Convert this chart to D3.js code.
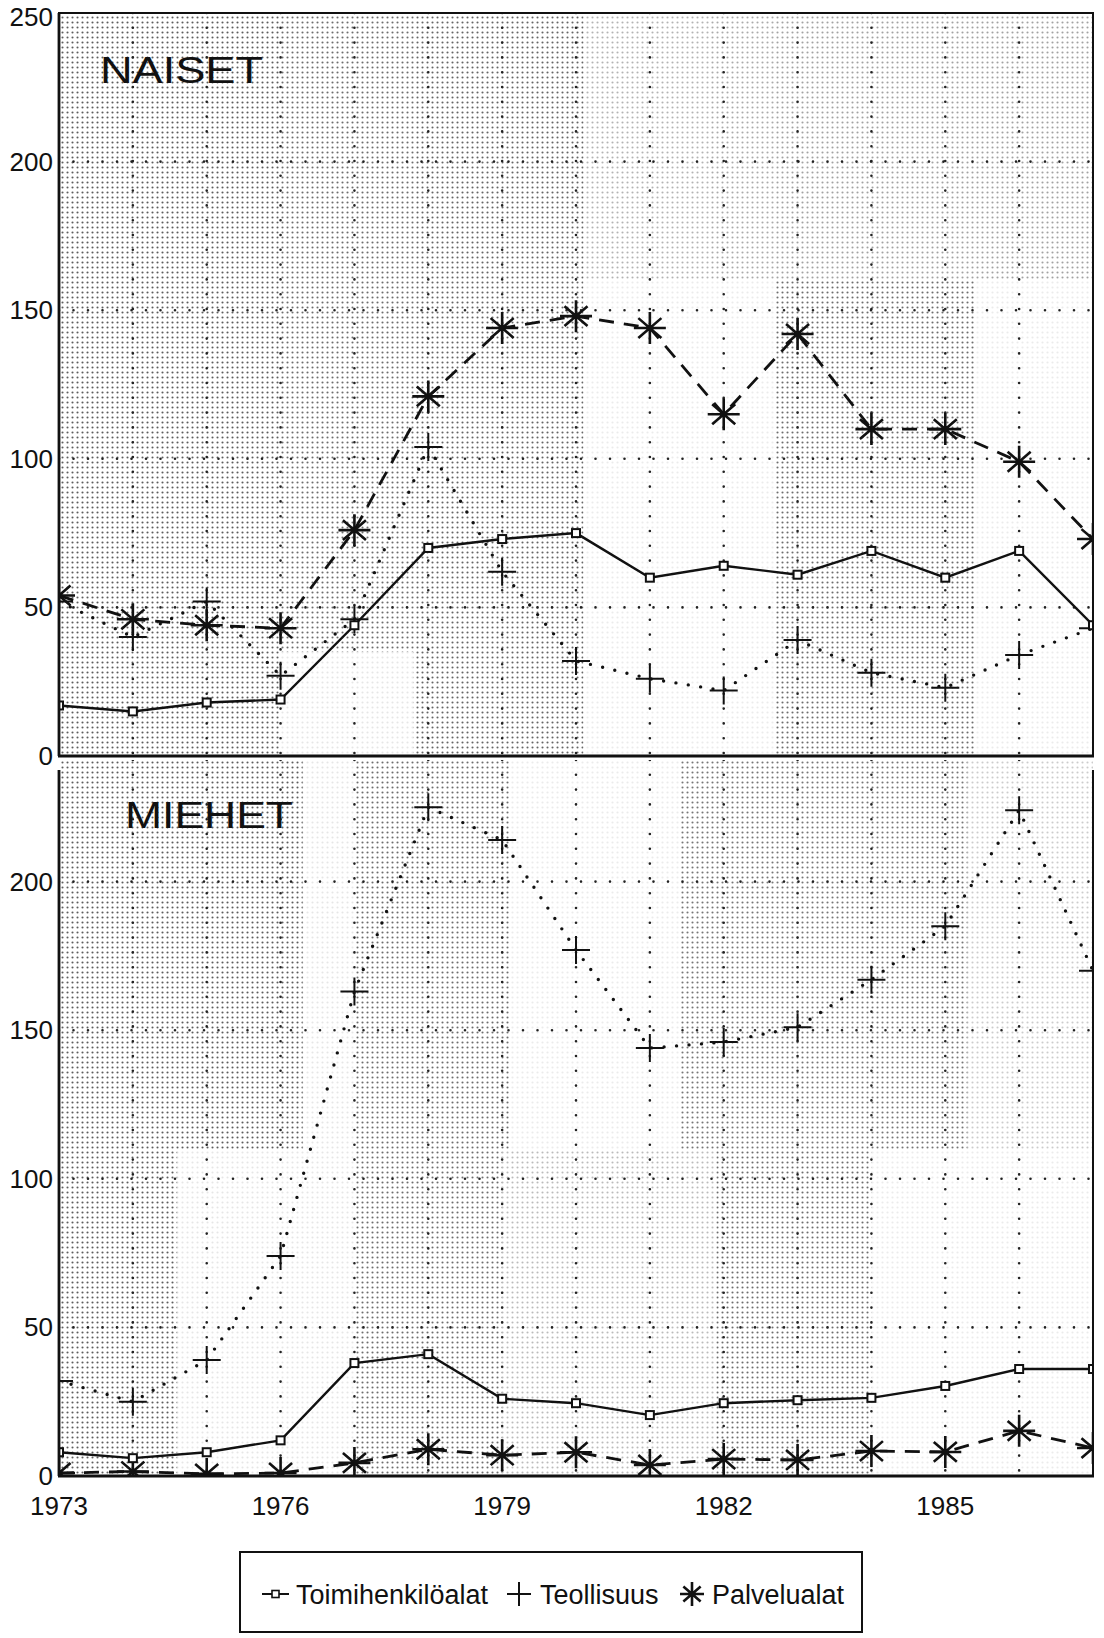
<!DOCTYPE html>
<meta charset="utf-8">
<script src="https://cdn.jsdelivr.net/npm/d3@7"></script>
<style>
    body { margin: 0; background: white; }
    svg { display: block; font-family: "Liberation Sans", Arial, sans-serif; }
</style>
<body>
<script>
    // vuodet ja sarjat
    var years = d3.range(1973, 1988);
    var naisetToimi = [17, 15, 18, 19, 44, 70, 73, 75, 60, 64, 61, 69, 60, 69, 44];
    var naisetTeol  = [52, 40, 52, 27, 46, 104, 62, 32, 26, 22, 39, 28, 23, 34, 43];
    var naisetPalv  = [54, 46, 44, 43, 76, 121, 144, 148, 144, 115, 142, 110, 110, 99, 73];
    var miehetToimi = [8, 6, 8, 12, 38, 41, 26, 24.5, 20.5, 24.5, 25.5, 26.3, 30.3, 36, 36];
    var miehetTeol  = [32, 25, 39, 74, 163, 225, 214, 177, 144, 146, 151, 167, 185, 224, 170];
    var miehetPalv  = [1, 1.5, 0.7, 1, 4.4, 9, 7, 8, 3.7, 5.7, 5.4, 8.4, 8.1, 15.2, 9.4];
    var yTicksTop = [0, 50, 100, 150, 200, 250];
    var yTicksBottom = [0, 50, 100, 150, 200];
    var gridValues = [50, 100, 150, 200];
    var xTickLabels = [1973, 1976, 1979, 1982, 1985];
    var seriesNames = ["Toimihenkilöalat", "Teollisuus", "Palvelualat"];

    // rasterin tummuus (vuosi0, vuosi1, arvo0, arvo1, peitto)
    var shadeTop = [
        [1973, 1976, 0, 250, 0.95], [1976, 1977.8, 35, 250, 0.85], [1976, 1977.8, 0, 35, 0.15],
        [1977.8, 1980.1, 0, 250, 0.9], [1980.1, 1981.8, 160, 250, 0.45], [1980.1, 1982.7, 0, 160, 0.12],
        [1981.8, 1982.7, 160, 250, 0.5], [1982.7, 1985.4, 0, 160, 0.85], [1982.7, 1987, 160, 250, 0.55],
        [1985.4, 1987, 0, 160, 0.12]
    ];
    var shadeBottom = [
        [1973, 1976.3, 110, 250, 0.95], [1976.3, 1977, 110, 250, 0.15], [1977, 1979.1, 110, 250, 0.85],
        [1979.1, 1981.4, 110, 250, 0.12], [1981.4, 1985.3, 110, 250, 0.8], [1985.3, 1987, 110, 250, 0.3],
        [1973, 1974.6, 0, 110, 0.95], [1974.6, 1977, 0, 110, 0.15], [1977, 1979, 0, 110, 0.85],
        [1979, 1981.9, 0, 110, 0.4], [1981.9, 1984, 0, 110, 0.85], [1984, 1987, 0, 110, 0.12]
    ];

    var W = 1104, H = 1638;
    var svg = d3.select("body").append("svg").attr("width", W).attr("height", H);
    var defs = svg.append("defs");
    var pat = defs.append("pattern").attr("id", "dots").attr("patternUnits", "userSpaceOnUse")
        .attr("width", 5).attr("height", 5);
    pat.append("circle").attr("cx", 2.5).attr("cy", 2.5).attr("r", 1.05).attr("fill", "#555");

    var x = d3.scaleLinear().domain([1973, 1987]).range([59, 1093]);

    var panels = [
        { name: "NAISET", top: 13, bottom: 756, axisTop: 13, y: d3.scaleLinear().domain([0, 250]).range([756, 13]),
          toimi: naisetToimi, teol: naisetTeol, palv: naisetPalv, ticks: yTicksTop, shade: shadeTop, title: [100, 83, 163] },
        { name: "MIEHET", top: 760, bottom: 1476, axisTop: 770, y: d3.scaleLinear().domain([0, 250]).range([1476, 733]),
          toimi: miehetToimi, teol: miehetTeol, palv: miehetPalv, ticks: yTicksBottom, shade: shadeBottom, title: [125, 828, 168] }
    ];

    function plus(g, s) {
        g.append("path").attr("d", "M" + (-s) + ",0H" + s + "M0," + (-s) + "V" + s)
            .attr("stroke", "#111").attr("stroke-width", 2).attr("fill", "none");
    }
    function star(g, s) {
        var a = s * 0.72, b = s * 0.62;
        g.append("path").attr("d", "M0," + (-s) + "V" + s + "M" + (-s) + ",0H" + s +
            "M" + (-a) + "," + (-b) + "L" + a + "," + b + "M" + (-a) + "," + b + "L" + a + "," + (-b))
            .attr("stroke", "#111").attr("stroke-width", 2.6).attr("fill", "none");
    }

    panels.forEach(function(p, i) {
        var y = p.y;
        var clipId = "clip" + i;
        defs.append("clipPath").attr("id", clipId).append("rect")
            .attr("x", x(1973)).attr("y", p.top).attr("width", x(1987) - x(1973)).attr("height", p.bottom - p.top);
        var g = svg.append("g").attr("clip-path", "url(#" + clipId + ")");

        // rasteri
        g.selectAll("rect.shade").data(p.shade).enter().append("rect").attr("class", "shade")
            .attr("x", function(d) { return x(d[0]); })
            .attr("y", function(d) { return y(d[3]); })
            .attr("width", function(d) { return x(d[1]) - x(d[0]); })
            .attr("height", function(d) { return y(d[2]) - y(d[3]); })
            .attr("fill", "url(#dots)").attr("opacity", function(d) { return d[4]; });

        // ruudukko
        g.selectAll("line.hg").data(gridValues).enter().append("line")
            .attr("x1", x(1973)).attr("x2", x(1987))
            .attr("y1", function(d) { return y(d); }).attr("y2", function(d) { return y(d); })
            .attr("stroke", "#222").attr("stroke-width", 2.6).attr("stroke-linecap", "round")
            .attr("stroke-dasharray", "0 14.5");
        g.selectAll("line.vg").data(years.slice(1, -1)).enter().append("line")
            .attr("x1", function(d) { return x(d); }).attr("x2", function(d) { return x(d); })
            .attr("y1", p.top).attr("y2", p.bottom)
            .attr("stroke", "#222").attr("stroke-width", 2.6).attr("stroke-linecap", "round")
            .attr("stroke-dasharray", "0 14.8");

        var line = function(vals) {
            return d3.line().x(function(d, j) { return x(years[j]); }).y(function(d) { return y(d); })(vals);
        };

        g.append("path").attr("d", line(p.teol)).attr("fill", "none").attr("stroke", "#111")
            .attr("stroke-width", 3.4).attr("stroke-linecap", "round").attr("stroke-dasharray", "0 12.5");
        g.append("path").attr("d", line(p.palv)).attr("fill", "none").attr("stroke", "#111")
            .attr("stroke-width", 2.8).attr("stroke-dasharray", "15 10");
        g.append("path").attr("d", line(p.toimi)).attr("fill", "none").attr("stroke", "#111")
            .attr("stroke-width", 2.4);

        p.teol.forEach(function(v, j) {
            plus(g.append("g").attr("transform", "translate(" + x(years[j]) + "," + y(v) + ")"), 14);
        });
        p.palv.forEach(function(v, j) {
            star(g.append("g").attr("transform", "translate(" + x(years[j]) + "," + y(v) + ")"), 16);
        });
        g.selectAll("rect.sq").data(p.toimi).enter().append("rect")
            .attr("x", function(d, j) { return x(years[j]) - 4; })
            .attr("y", function(d) { return y(d) - 4; })
            .attr("width", 8).attr("height", 8)
            .attr("fill", "white").attr("stroke", "#111").attr("stroke-width", 2);

        // kehys
        svg.append("line").attr("x1", x(1973)).attr("x2", x(1973)).attr("y1", p.axisTop).attr("y2", p.bottom)
            .attr("stroke", "#111").attr("stroke-width", 2.8);
        svg.append("line").attr("x1", x(1987)).attr("x2", x(1987)).attr("y1", p.axisTop).attr("y2", p.bottom)
            .attr("stroke", "#111").attr("stroke-width", 2);
        svg.append("line").attr("x1", x(1973) - 1).attr("x2", x(1987) + 1).attr("y1", p.bottom).attr("y2", p.bottom)
            .attr("stroke", "#111").attr("stroke-width", 2.8);
        if (i === 0) {
            svg.append("line").attr("x1", x(1973) - 1).attr("x2", x(1987) + 1).attr("y1", p.top).attr("y2", p.top)
                .attr("stroke", "#111").attr("stroke-width", 2.2);
        }

        // y-akselin tekstit
        svg.selectAll("text.yt" + i).data(p.ticks).enter().append("text")
            .attr("x", 53).attr("y", function(d) { return Math.max(y(d) + 9, 26); })
            .attr("text-anchor", "end").attr("font-size", 26).attr("fill", "#111")
            .text(function(d) { return d; });

        svg.append("text").attr("x", p.title[0]).attr("y", p.title[1])
            .attr("font-size", 36).attr("fill", "#111")
            .attr("textLength", p.title[2]).attr("lengthAdjust", "spacingAndGlyphs")
            .text(p.name);
    });

    // x-akseli
    svg.selectAll("text.xt").data(xTickLabels).enter().append("text")
        .attr("x", function(d) { return x(d); }).attr("y", 1515)
        .attr("text-anchor", "middle").attr("font-size", 26).attr("fill", "#111")
        .text(function(d) { return d; });

    // selite
    var lg = svg.append("g");
    lg.append("rect").attr("x", 240).attr("y", 1552).attr("width", 622).attr("height", 80)
        .attr("fill", "white").attr("stroke", "#111").attr("stroke-width", 2);
    var ly = 1594;
    lg.append("line").attr("x1", 262).attr("x2", 289).attr("y1", ly).attr("y2", ly)
        .attr("stroke", "#111").attr("stroke-width", 2);
    lg.append("rect").attr("x", 272).attr("y", ly - 3.5).attr("width", 7).attr("height", 7)
        .attr("fill", "white").attr("stroke", "#111").attr("stroke-width", 1.6);
    plus(lg.append("g").attr("transform", "translate(519," + ly + ")"), 12);
    star(lg.append("g").attr("transform", "translate(692," + ly + ")"), 12);
    var labelX = [296, 540, 712];
    lg.selectAll("text").data(seriesNames).enter().append("text")
        .attr("x", function(d, j) { return labelX[j]; }).attr("y", ly + 10)
        .attr("font-size", 27).attr("fill", "#111")
        .text(function(d) { return d; });
</script>
</body>
